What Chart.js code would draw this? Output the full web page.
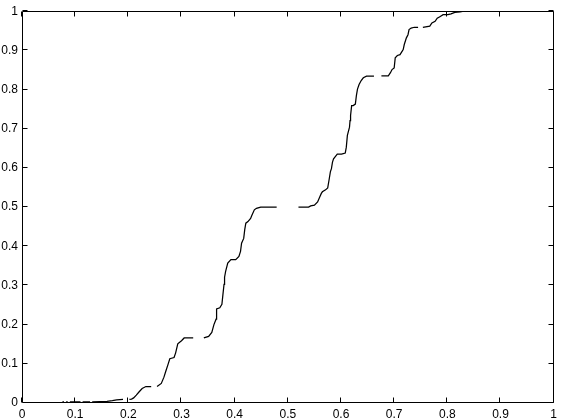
<!DOCTYPE html>
<html>
<head>
<meta charset="utf-8">
<script src="https://cdn.jsdelivr.net/npm/chart.js@4"></script>
<style>
html,body{margin:0;padding:0;background:#fff;}
#wrap{width:561px;height:420px;position:relative;}
</style>
</head>
<body>
<div id="wrap"><canvas id="c" width="561" height="420"></canvas></div>
<script>
// Empirical staircase curve (x values and y values; null = gap in the drawn line)
const xValues = [
  0.076,0.079,null,
  0.083,0.086,null,
  0.090,0.110,null,
  0.114,0.128,null,
  0.132,0.160,0.170,0.178,0.190,null,
  0.202,0.206,0.210,0.215,0.220,0.226,0.233,0.243,null,
  0.254,0.262,0.267,0.270,0.275,0.278,0.286,0.289,0.293,0.300,0.305,0.322,null,
  0.342,0.351,0.357,0.361,0.365,0.366,0.372,0.376,0.378,0.380,0.381,0.383,0.387,0.393,0.402,0.408,0.411,0.413,0.417,0.419,0.421,0.425,0.430,0.432,0.437,0.441,0.449,0.479,null,
  0.520,0.539,0.543,0.550,0.556,0.560,0.563,0.565,0.571,0.575,0.578,0.580,0.582,0.584,0.586,0.590,0.593,0.601,0.608,0.610,0.612,0.616,0.617,0.618,0.620,0.623,0.627,0.629,0.631,0.634,0.638,0.642,0.648,0.662,null,
  0.676,0.689,0.693,0.696,0.700,0.702,0.706,0.711,0.717,0.719,0.723,0.726,0.728,0.732,0.738,0.745,null,
  0.754,0.767,0.771,0.777,0.781,0.786,0.792,0.801,0.807,0.814,0.824,0.831
];
const yValues = [
  0.003,0.003,null,
  0.003,0.003,null,
  0.003,0.003,null,
  0.003,0.003,null,
  0.003,0.004,0.006,0.008,0.009,null,
  0.009,0.010,0.013,0.020,0.028,0.037,0.042,0.042,null,
  0.042,0.050,0.066,0.079,0.100,0.113,0.116,0.128,0.151,0.159,0.166,0.166,null,
  0.166,0.170,0.180,0.200,0.214,0.240,0.243,0.252,0.278,0.303,0.321,0.336,0.357,0.366,0.366,0.374,0.387,0.408,0.420,0.443,0.459,0.463,0.471,0.478,0.493,0.497,0.500,0.500,null,
  0.500,0.500,0.503,0.505,0.513,0.526,0.535,0.539,0.544,0.549,0.573,0.590,0.598,0.615,0.623,0.630,0.635,0.635,0.638,0.653,0.683,0.704,0.721,0.734,0.759,0.759,0.763,0.785,0.801,0.813,0.823,0.830,0.834,0.834,null,
  0.835,0.835,0.843,0.851,0.855,0.881,0.887,0.889,0.902,0.915,0.932,0.940,0.953,0.957,0.959,0.959,null,
  0.959,0.962,0.970,0.974,0.982,0.986,0.991,0.991,0.993,0.997,0.998,1.000
];
const xTicks = [0,0.1,0.2,0.3,0.4,0.5,0.6,0.7,0.8,0.9,1];
const yTicks = [0,0.1,0.2,0.3,0.4,0.5,0.6,0.7,0.8,0.9,1];

const points = xValues.map((x, i) => ({x: x === null ? (xValues[i-1] ?? 0) : x, y: yValues[i]}));

const FONT = "'Liberation Sans', Arial, sans-serif";

function fmt(v){ return v === 0 ? '0' : (v === 1 ? '1' : v.toFixed(1)); }

const boxPlugin = {
  id: 'matlabBox',
  afterDatasetsDraw(chart){
    const {ctx, chartArea: a, scales} = chart;
    const L = Math.round(a.left) + 0.5, R = Math.round(a.right) - 0.5;
    const T = Math.round(a.top) + 0.5, B = Math.round(a.bottom) - 0.5;
    ctx.save();
    ctx.strokeStyle = '#000';
    ctx.lineWidth = 1;
    ctx.beginPath();
    ctx.rect(L, T, R - L, B - T);
    const tl = 5;
    xTicks.forEach(v => {
      const px = Math.round(scales.x.getPixelForValue(v)) - 0.5;
      ctx.moveTo(px, B); ctx.lineTo(px, B - tl);
      ctx.moveTo(px, T); ctx.lineTo(px, T + tl);
    });
    yTicks.forEach(v => {
      const py = Math.round(scales.y.getPixelForValue(v)) - 0.5;
      ctx.moveTo(L, py); ctx.lineTo(L + tl, py);
      ctx.moveTo(R, py); ctx.lineTo(R - tl, py);
    });
    ctx.stroke();
    ctx.restore();
  }
};

new Chart(document.getElementById('c'), {
  type: 'line',
  data: {
    datasets: [{
      data: points,
      borderColor: '#000',
      borderWidth: 1.25,
      pointRadius: 0,
      tension: 0,
      spanGaps: false,
      fill: false
    }]
  },
  options: {
    responsive: false,
    animation: false,
    devicePixelRatio: 1,
    parsing: {xAxisKey: 'x', yAxisKey: 'y'},
    layout: {padding: {top: 8, right: 4, left: 0, bottom: 0}},
    plugins: {legend: {display: false}, tooltip: {enabled: false}},
    scales: {
      x: {
        type: 'linear', min: 0, max: 1,
        afterBuildTicks(s){ s.ticks = xTicks.map(v => ({value: v})); },
        afterFit(s){ s.height = 17; },
        grid: {display: false, drawTicks: false},
        border: {display: false},
        ticks: {color: '#000', padding: 4, maxRotation: 0, autoSkip: false,
                font: {family: FONT, size: 12}, callback: v => fmt(v)}
      },
      y: {
        type: 'linear', min: 0, max: 1,
        afterBuildTicks(s){ s.ticks = yTicks.map(v => ({value: v})); },
        afterFit(s){ s.width = 22; },
        grid: {display: false, drawTicks: false},
        border: {display: false},
        ticks: {color: '#000', padding: 4, autoSkip: false,
                font: {family: FONT, size: 12}, callback: v => fmt(v)}
      }
    }
  },
  plugins: [boxPlugin]
});
</script>
</body>
</html>
